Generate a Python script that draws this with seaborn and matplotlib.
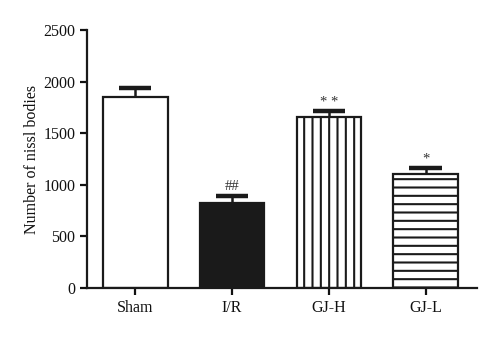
import matplotlib
matplotlib.use("Agg")
import matplotlib.pyplot as plt
import seaborn as sns
import numpy as np
import pandas as pd

groups = ["Sham", "I/R", "GJ-H", "GJ-L"]
counts = [1850, 825, 1660, 1100]
sem = [85, 70, 50, 60]
marks = ["", "##", "* *", "*"]
yticks = [0, 500, 1000, 1500, 2000, 2500]

sns.set_theme(style="ticks")
plt.rcParams["font.family"] = ["Liberation Serif", "DejaVu Serif"]
plt.rcParams["hatch.linewidth"] = 1.5
plt.rcParams["hatch.color"] = "#1a1a1a"

df = pd.DataFrame({"group": groups, "count": counts})

fig = plt.figure(figsize=(5, 3.4), dpi=100)
ax = fig.add_axes([0.174, 0.153, 0.78, 0.759])

fills = ["white", "#1a1a1a", "white", "white"]
sns.barplot(data=df, x="group", y="count", hue="group", palette=fills,
            order=groups, hue_order=groups, width=0.67, dodge=False,
            edgecolor="#1a1a1a", linewidth=1.6, legend=False, ax=ax)

hatches = ["", "", "||", "--"]
for patch, h in zip(ax.patches, hatches):
    patch.set_hatch(h)

# upper-only error bars with a single thick cap
xpos = np.arange(len(groups))
tops = np.array(counts) + np.array(sem)
ax.vlines(xpos, counts, tops, color="#1a1a1a", lw=1.8, zorder=3)
ax.hlines(tops, xpos - 0.17, xpos + 0.17, color="#1a1a1a", lw=3.2, zorder=3)

for x, t, m in zip(xpos, tops, marks):
    if m:
        ax.annotate(m, (x, t), xytext=(0, 2), textcoords="offset points",
                    ha="center", va="bottom", fontsize=10.5, color="#333333")

ax.set_xlim(-0.495, 3.526)
ax.set_ylim(0, 2500)
ax.set_yticks(yticks)
ax.set_yticklabels([str(t) for t in yticks])
ax.set_xlabel("")
ax.set_ylabel("Number of nissl bodies", fontsize=11.5, color="#111111", labelpad=2)
ax.tick_params(axis="both", labelsize=11.5, colors="#111111", width=1.6, length=5)
for s in ["left", "bottom"]:
    ax.spines[s].set_linewidth(1.6)
    ax.spines[s].set_color("#1a1a1a")
sns.despine(ax=ax)

fig.savefig("out.png", dpi=100, facecolor="white")
